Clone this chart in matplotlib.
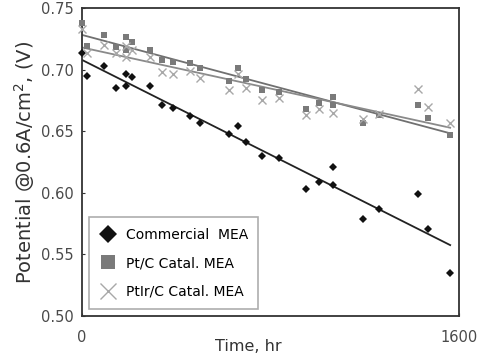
import matplotlib
matplotlib.use("Agg")
import matplotlib.pyplot as plt
import numpy as np

# ---- data ----
t_com = [0, 22, 95, 143, 187, 187, 214, 289, 338, 385, 457, 502, 624, 661, 698,
         764, 838, 949, 1006, 1067, 1067, 1191, 1261, 1425, 1470, 1563]
v_com = [0.713, 0.695, 0.703, 0.685, 0.696, 0.687, 0.694, 0.687, 0.671, 0.669,
         0.662, 0.657, 0.648, 0.654, 0.641, 0.630, 0.628, 0.603, 0.609, 0.621,
         0.606, 0.579, 0.587, 0.599, 0.571, 0.535]

t_pt = [0, 22, 95, 143, 187, 187, 214, 289, 338, 385, 457, 502, 624, 661, 698,
        764, 838, 949, 1006, 1067, 1067, 1191, 1261, 1425, 1470, 1563]
v_pt = [0.738, 0.719, 0.728, 0.718, 0.726, 0.716, 0.722, 0.716, 0.708, 0.706,
        0.705, 0.701, 0.691, 0.701, 0.692, 0.683, 0.682, 0.668, 0.673, 0.678,
        0.671, 0.657, 0.663, 0.671, 0.661, 0.647]

t_ir = [0, 22, 95, 143, 187, 187, 214, 289, 338, 385, 457, 502, 624, 661, 698,
        764, 838, 949, 1006, 1067, 1191, 1261, 1425, 1470, 1563]
v_ir = [0.733, 0.713, 0.720, 0.713, 0.710, 0.719, 0.716, 0.710, 0.698, 0.696,
        0.699, 0.693, 0.683, 0.696, 0.685, 0.675, 0.677, 0.663, 0.668, 0.665,
        0.660, 0.664, 0.684, 0.670, 0.657]

labels = ["Commercial  MEA", "Pt/C Catal. MEA", "PtIr/C Catal. MEA"]

fig = plt.figure(figsize=(4.8, 3.58), dpi=100)
ax = fig.add_axes([0.171, 0.117, 0.785, 0.861])

series = [
    (t_com, v_com, "D", "#111111", 4.5, "#222222"),
    (t_pt, v_pt, "s", "#7a7a7a", 5.0, "#707070"),
    (t_ir, v_ir, "x", "#a8a8a8", 5.5, "#8a8a8a"),
]
handles = []
for (t, v, mk, col, ms, lcol), lab in zip(series, labels):
    t = np.asarray(t, float)
    v = np.asarray(v, float)
    # linear trendline over the measured range
    slope, icpt = np.polyfit(t, v, 1)
    tt = np.array([0, t.max()])
    ax.plot(tt, icpt + slope * tt, color=lcol, lw=1.3, zorder=2)
    h = ax.plot(t, v, ls="none", marker=mk, color=col, ms=ms,
                mew=1.0 if mk == "x" else 0, label=lab, zorder=3,
                clip_on=False)[0]
    handles.append(h)

ax.set_xlim(0, 1600)
ax.set_ylim(0.50, 0.75)
ax.set_xticks([0, 1600])
yt = np.arange(0.50, 0.751, 0.05)
ax.set_yticks(yt)
ax.set_yticklabels([f"{y:.2f}" for y in yt])
ax.tick_params(direction="in", length=2, colors="#333333", labelcolor="#4a4a4a",
               labelsize=10.5, pad=6)
ax.tick_params(axis="x", pad=10)
for s in ax.spines.values():
    s.set_color("#333333")
    s.set_linewidth(1.3)

ax.set_xlabel("Time, hr", fontsize=11.5, color="#333333", va="center")
ax.xaxis.set_label_coords(0.44, -0.1)
ax.set_ylabel("Potential @0.6A/cm$^2$, (V)", fontsize=14, color="#333333",
              labelpad=3)

leg = ax.legend(handles=handles, loc="lower left", bbox_to_anchor=(0.0, 0.0),
                fontsize=10, markerscale=2.1, frameon=True, fancybox=False,
                edgecolor="#999999", handlelength=1.3, handletextpad=0.6,
                borderpad=0.75, labelspacing=1.05)
leg.get_frame().set_linewidth(1.2)

fig.savefig("out.png", dpi=100)
